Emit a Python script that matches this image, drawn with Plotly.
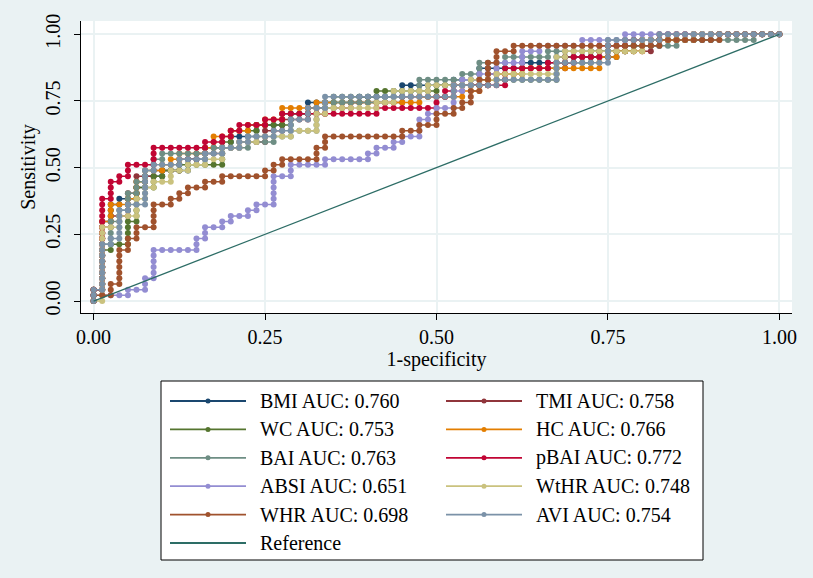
import plotly.graph_objects as go

# ROC curves of obesity indices; each dot is one cut-off of the index.
# Corners of every staircase are given in subject counts
# (false positives out of 80 controls, true positives out of 47 cases).
N_NEG = 80
N_POS = 47

labels = ["BMI", "TMI", "WC", "HC", "BAI", "pBAI", "ABSI", "WtHR", "WHR", "AVI"]
auc = [0.760, 0.758, 0.753, 0.766, 0.763, 0.772, 0.651, 0.748, 0.698, 0.754]
colors = ["#1a476f", "#90353b", "#55752f", "#e37e00", "#6e8e84",
          "#c10534", "#938dd2", "#cac27e", "#a0522d", "#7b92a8"]
ref_color = "#2d6d66"

bmi = [(0, 0), (0, 2), (1, 2), (1, 14), (2, 14), (2, 17), (3, 17), (3, 18), (5, 18), (5, 20),
       (6, 20), (6, 22), (8, 22), (8, 23), (11, 23), (11, 25), (13, 25), (13, 27), (16, 27),
       (16, 29), (19, 29), (19, 31), (22, 31), (22, 33), (25, 33), (25, 35), (31, 35), (31, 36),
       (36, 36), (36, 38), (42, 38), (42, 39), (45, 39), (45, 41), (50, 41), (50, 42), (54, 42),
       (54, 43), (61, 43), (61, 44), (62, 44), (62, 45), (66, 45), (66, 46), (72, 46), (72, 47),
       (80, 47)]
tmi = [(0, 0), (0, 2), (1, 2), (1, 13), (2, 13), (2, 15), (4, 15), (4, 19), (5, 19), (5, 22),
       (7, 22), (7, 23), (10, 23), (10, 25), (12, 25), (12, 26), (15, 26), (15, 27), (17, 27),
       (17, 28), (20, 28), (20, 30), (22, 30), (22, 32), (25, 32), (25, 34), (30, 34), (30, 35),
       (36, 35), (36, 36), (42, 36), (42, 38), (46, 38), (46, 40), (50, 40), (50, 41), (55, 41),
       (55, 43), (60, 43), (60, 44), (65, 44), (65, 46), (70, 46), (70, 47), (80, 47)]
wc = [(0, 0), (0, 2), (1, 2), (1, 9), (2, 9), (2, 10), (4, 10), (4, 14), (5, 14), (5, 20),
      (7, 20), (7, 22), (8, 22), (8, 23), (10, 23), (10, 24), (15, 24), (15, 28), (16, 28),
      (16, 30), (19, 30), (19, 31), (23, 31), (23, 33), (27, 33), (27, 35), (28, 35), (28, 36),
      (33, 36), (33, 37), (40, 37), (40, 38), (46, 38), (46, 39), (54, 39), (54, 42), (58, 42),
      (58, 44), (63, 44), (63, 46), (70, 46), (70, 47), (80, 47)]
hc = [(0, 0), (0, 2), (1, 2), (1, 14), (2, 14), (2, 17), (4, 17), (4, 18), (5, 18), (5, 21),
      (6, 21), (6, 23), (8, 23), (8, 24), (9, 24), (9, 25), (10, 25), (10, 26), (13, 26),
      (13, 27), (14, 27), (14, 29), (16, 29), (16, 30), (18, 30), (18, 31), (20, 31), (20, 32),
      (22, 32), (22, 34), (26, 34), (26, 35), (38, 35), (38, 36), (43, 36), (43, 37), (45, 37),
      (45, 39), (47, 39), (47, 40), (50, 40), (50, 41), (59, 41), (59, 43), (61, 43), (61, 44),
      (64, 44), (64, 46), (68, 46), (68, 47), (80, 47)]
bai = [(0, 0), (0, 2), (1, 2), (1, 10), (2, 10), (2, 14), (3, 14), (3, 16), (4, 16), (4, 19),
       (5, 19), (5, 21), (6, 21), (6, 23), (7, 23), (7, 25), (8, 25), (8, 26), (14, 26), (14, 27),
       (18, 27), (18, 28), (21, 28), (21, 29), (23, 29), (23, 30), (26, 30), (26, 34), (28, 34),
       (28, 35), (34, 35), (34, 36), (35, 36), (35, 37), (38, 37), (38, 39), (43, 39), (43, 40),
       (45, 40), (45, 42), (48, 42), (48, 43), (53, 43), (53, 44), (60, 44), (60, 45), (68, 45),
       (68, 46), (77, 46), (77, 47), (80, 47)]
pbai = [(0, 0), (0, 2), (1, 2), (1, 18), (2, 18), (2, 21), (3, 21), (3, 22), (4, 22), (4, 24),
        (7, 24), (7, 27), (13, 27), (13, 28), (15, 28), (15, 29), (16, 29), (16, 30), (17, 30),
        (17, 31), (20, 31), (20, 32), (22, 32), (22, 33), (33, 33), (33, 34), (40, 34), (40, 36),
        (41, 36), (41, 37), (42, 37), (42, 38), (48, 38), (48, 41), (53, 41), (53, 42), (56, 42),
        (56, 43), (59, 43), (59, 45), (62, 45), (62, 46), (66, 46), (66, 47), (80, 47)]
absi = [(0, 0), (0, 1), (4, 1), (4, 2), (6, 2), (6, 4), (7, 4), (7, 9), (12, 9), (12, 11),
        (13, 11), (13, 13), (15, 13), (15, 14), (16, 14), (16, 15), (18, 15), (18, 16), (19, 16),
        (19, 17), (21, 17), (21, 22), (23, 22), (23, 24), (27, 24), (27, 25), (32, 25), (32, 26),
        (33, 26), (33, 27), (35, 27), (35, 28), (36, 28), (36, 29), (38, 29), (38, 32), (39, 32),
        (39, 33), (40, 33), (40, 34), (42, 34), (42, 37), (43, 37), (43, 39), (45, 39), (45, 40),
        (47, 40), (47, 42), (50, 42), (50, 44), (52, 44), (52, 45), (57, 45), (57, 46), (62, 46),
        (62, 47), (80, 47)]
wthr = [(0, 0), (1, 0), (1, 13), (3, 13), (3, 15), (5, 15), (5, 18), (6, 18), (6, 20), (7, 20),
        (7, 21), (9, 21), (9, 23), (11, 23), (11, 24), (13, 24), (13, 25), (15, 25), (15, 27),
        (17, 27), (17, 28), (19, 28), (19, 29), (23, 29), (23, 30), (26, 30), (26, 33), (27, 33),
        (27, 34), (33, 34), (33, 35), (35, 35), (35, 37), (39, 37), (39, 38), (44, 38), (44, 39),
        (47, 39), (47, 40), (54, 40), (54, 43), (55, 43), (55, 44), (64, 44), (64, 46), (70, 46),
        (70, 47), (80, 47)]
whr = [(0, 0), (0, 1), (2, 1), (2, 3), (3, 3), (3, 9), (4, 9), (4, 11), (5, 11), (5, 13),
       (7, 13), (7, 17), (9, 17), (9, 18), (10, 18), (10, 19), (11, 19), (11, 20), (13, 20),
       (13, 21), (15, 21), (15, 22), (20, 22), (20, 23), (21, 23), (21, 24), (22, 24), (22, 25),
       (26, 25), (26, 27), (27, 27), (27, 29), (36, 29), (36, 30), (38, 30), (38, 31), (40, 31),
       (40, 33), (42, 33), (42, 34), (43, 34), (43, 35), (44, 35), (44, 37), (45, 37), (45, 39),
       (46, 39), (46, 42), (47, 42), (47, 44), (49, 44), (49, 45), (66, 45), (66, 46), (73, 46),
       (73, 47), (80, 47)]
avi = [(0, 0), (0, 2), (1, 2), (1, 10), (2, 10), (2, 11), (3, 11), (3, 16), (4, 16), (4, 17),
       (6, 17), (6, 23), (7, 23), (7, 24), (10, 24), (10, 25), (13, 25), (13, 26), (15, 26),
       (15, 27), (17, 27), (17, 28), (18, 28), (18, 29), (21, 29), (21, 30), (23, 30), (23, 32),
       (25, 32), (25, 34), (27, 34), (27, 36), (42, 36), (42, 38), (47, 38), (47, 39), (54, 39),
       (54, 42), (60, 42), (60, 46), (66, 46), (66, 47), (80, 47)]

curves = [bmi, tmi, wc, hc, bai, pbai, absi, wthr, whr, avi]

axis_ticks = [0, 0.25, 0.5, 0.75, 1]
tick_text = ["0.00", "0.25", "0.50", "0.75", "1.00"]


def roc_points(corners):
    """One point per subject along the staircase between corners"""
    fp, tp = [corners[0][0]], [corners[0][1]]
    for (x0, y0), (x1, y1) in zip(corners, corners[1:]):
        steps = max(abs(x1 - x0), abs(y1 - y0))
        for k in range(1, steps + 1):
            fp.append(x0 + (x1 - x0) * k // steps)
            tp.append(y0 + (y1 - y0) * k // steps)
    return [f / N_NEG for f in fp], [t / N_POS for t in tp]


W, H = 813, 578
ML, MR, MT, MB = 81, 21, 21, 265
serif = "Liberation Serif"


def px(x):
    # page pixel -> paper x
    return (x - ML) / (W - ML - MR)


def py(y):
    # page pixel -> paper y
    return (H - MB - y) / (H - MT - MB)


fig = go.Figure()

for name, a, col, corners in zip(labels, auc, colors, curves):
    x, y = roc_points(corners)
    fig.add_trace(go.Scatter(x=x, y=y, mode="lines+markers", name=f"{name} AUC: {a:.3f}",
                             line=dict(color=col, width=1.5),
                             marker=dict(color=col, size=6), showlegend=False))

fig.add_trace(go.Scatter(x=[0, 1], y=[0, 1], mode="lines", name="Reference",
                         line=dict(color=ref_color, width=1.3), showlegend=False))

# Stata style legend box: two columns, filled row by row
shapes = [dict(type="rect", xref="paper", yref="paper", x0=px(161), x1=px(703),
               y0=py(381), y1=py(560), line=dict(color="black", width=1), fillcolor="white",
               layer="below")]
annotations = []
entries = [(f"{n} AUC: {a:.3f}", c, True) for n, a, c in zip(labels, auc, colors)]
entries.append(("Reference", ref_color, False))
for k, (text, col, dot) in enumerate(entries):
    row, column = divmod(k, 2)
    yc = 401 + 28.4 * row
    x0 = 170 if column == 0 else 446
    shapes.append(dict(type="line", xref="paper", yref="paper", x0=px(x0), x1=px(x0 + 76),
                       y0=py(yc), y1=py(yc), line=dict(color=col, width=1.8)))
    if dot:
        xc = x0 + 38
        shapes.append(dict(type="circle", xref="paper", yref="paper", x0=px(xc - 2.5),
                           x1=px(xc + 2.5), y0=py(yc + 2.5), y1=py(yc - 2.5),
                           line=dict(color=col, width=0), fillcolor=col))
    annotations.append(dict(text=text, xref="paper", yref="paper", x=px(x0 + 88), y=py(yc),
                            xanchor="left", yanchor="middle", showarrow=False,
                            font=dict(family=serif, size=20, color="black")))

axis_style = dict(tickvals=axis_ticks, ticktext=tick_text, showline=True, linecolor="black",
                  linewidth=1.3, ticks="outside", ticklen=6, tickcolor="black", tickwidth=1.3,
                  gridcolor="#eaf2f3", gridwidth=1.5, zeroline=False, automargin=False,
                  tickfont=dict(family=serif, size=20, color="black"))

fig.update_layout(
    width=W, height=H,
    margin=dict(l=ML, r=MR, t=MT, b=MB),
    paper_bgcolor="#eaf2f3", plot_bgcolor="white",
    font=dict(family=serif, color="black"),
    showlegend=False,
    xaxis=dict(range=[-0.0184, 1.0184],
               title=dict(text="1-specificity", font=dict(family=serif, size=20), standoff=0),
               **axis_style),
    yaxis=dict(range=[-0.0449, 1.0498], tickangle=-90, ticklabelstandoff=6,
               title=dict(text="Sensitivity", font=dict(family=serif, size=20), standoff=0),
               **axis_style),
    shapes=shapes,
    annotations=annotations,
)

# the page keeps no margin round the figure, so the 813x578 graph fills the window
fig.write_html("out.html", config={"displayModeBar": False},
               post_script="document.body.style.margin = '0px';")
